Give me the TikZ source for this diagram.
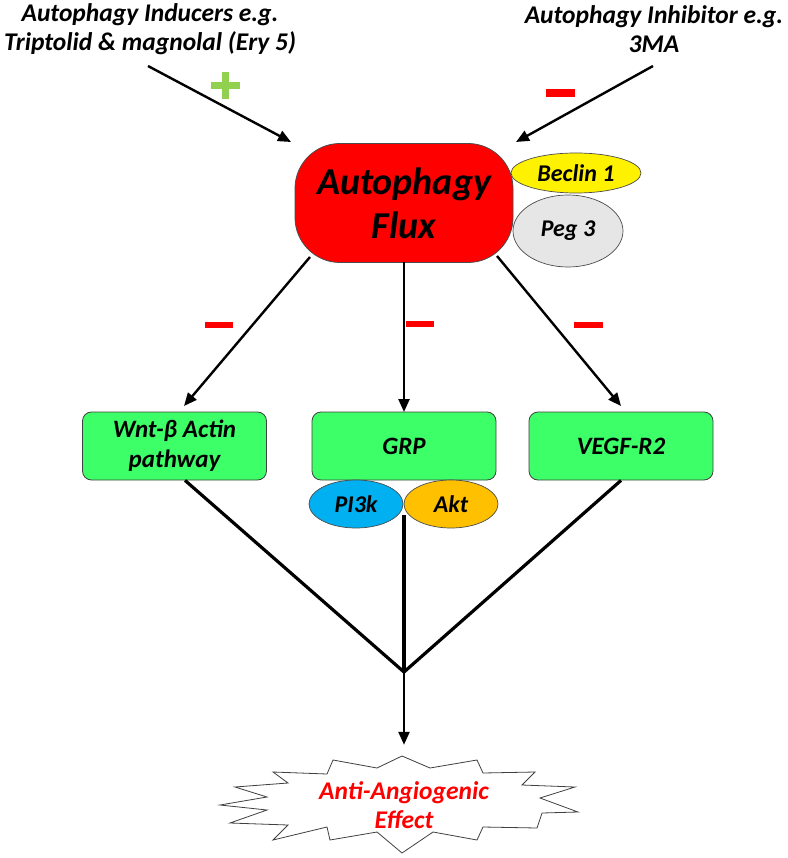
\documentclass[tikz,border=0pt]{standalone}
\usepackage{fontspec}
\setmainfont{Carlito}
\usetikzlibrary{arrows.meta,shapes.geometric}
\definecolor{boxgreen}{RGB}{61,255,104}
\definecolor{pigreen}{RGB}{146,208,80}
\definecolor{pblue}{RGB}{0,176,240}
\definecolor{aorange}{RGB}{255,192,0}
\definecolor{pgrey}{RGB}{230,230,230}
\begin{document}
\begin{tikzpicture}[x=1pt,y=-1pt,
  lbl/.style={font=\fontsize{25.5}{29}\selectfont\bfseries\itshape, align=center, inner sep=0pt},
  gbox/.style={draw=black!75, line width=0.8pt, fill=boxgreen, rounded corners=9pt,
    minimum width=184pt, minimum height=68pt, align=center, inner sep=0pt,
    font=\fontsize{25}{30}\selectfont\bfseries\itshape},
  oval/.style={ellipse, draw=black!70, line width=0.7pt, inner sep=0pt,
    font=\fontsize{24}{28}\selectfont\bfseries\itshape},
  arr/.style={line width=2.4pt, -{Triangle[length=13pt,width=11pt]}},
  conv/.style={line width=3.2pt},
  minus/.style={fill=red}
]
\useasboundingbox (0,0) rectangle (787,858);

% top texts
\node[lbl] (textL) at (150,29) {Autophagy Inducers e.g.\\Triptolid \& magnolal (Ery 5)};
\node[lbl] (textR) at (654,29) {Autophagy Inhibitor e.g.\\3MA};

% autophagy flux
\node[draw=black!70, line width=0.8pt, fill=red, rounded corners=45pt,
  minimum width=218pt, minimum height=119pt, inner sep=0pt, align=center,
  font=\fontsize{38}{44}\selectfont\bfseries\itshape] (flux) at (404,203) {Autophagy\\Flux};
\node[oval, fill=yellow, minimum width=130pt, minimum height=40pt] (beclin) at (576,173) {Beclin 1};
\node[oval, fill=pgrey, minimum width=110pt, minimum height=72pt] (peg) at (568,231) {Peg 3};

% top arrows
\coordinate (sL) at (148,66);
\coordinate (eL) at (291,142);
\coordinate (sR) at (653,66);
\coordinate (eR) at (516,142);
\draw[arr] (sL) -- (eL);
\draw[arr] (sR) -- (eR);
\fill[pigreen] (211,82) rectangle (240,89);
\fill[pigreen] (222,72) rectangle (229,99);
\fill[minus] (546,89) rectangle (575,97);

% green boxes
\node[gbox] (wnt) at (174.5,446) {Wnt-\textit{β} Actin\\pathway};
\node[gbox] (grp) at (404,446) {GRP};
\node[gbox] (vegf) at (621,446) {VEGF-R2};
\node[oval, fill=pblue, minimum width=94pt, minimum height=48pt] (pi3k) at (356,504) {PI3k};
\node[oval, fill=aorange, minimum width=94pt, minimum height=48pt] (akt) at (451,504) {Akt};

% arrows from flux
\coordinate (f1) at (310,257);
\coordinate (f2) at (404,262);
\coordinate (f3) at (497,256);
\coordinate (t1) at (184,406);
\coordinate (t2) at (404,412);
\coordinate (t3) at (621,406);
\draw[arr] (f1) -- (t1);
\draw[arr] (f2) -- (t2);
\draw[arr] (f3) -- (t3);
\fill[minus] (205,322) rectangle (233,328);
\fill[minus] (406,321) rectangle (434,327);
\fill[minus] (574,322) rectangle (603,328);

% converging lines
\coordinate (join) at (404,672);
\coordinate (gmid) at (404,515);
\draw[conv] (wnt.south -| 185,0) -- (join);
\draw[conv] (vegf.south) -- (join);
\draw[conv] (gmid) -- (join);

% effect
\draw[line width=0.8pt, fill=white, draw=black!75]
 (273,772) -- (327,774) -- (333,760) -- (377,768) -- (402,756) -- (430,768) --
 (477,760) -- (483,773) -- (535,772) -- (522,785) -- (575,787) -- (540,798) --
 (578,812) -- (542,813) -- (537,828) -- (483,827) -- (477,840) -- (433,832) --
 (402,853) -- (377,832) -- (330,840) -- (327,827) -- (273,840) -- (288,825) --
 (230,823) -- (267,810) -- (220,805) -- (267,797) -- (235,787) -- (288,783) -- cycle;
\node[inner sep=0pt, minimum height=120pt, align=center, text=red,
  font=\fontsize{25.5}{29}\selectfont\bfseries\itshape] (effect) at (404,805) {Anti-Angiogenic\\Effect};
\draw[line width=2.4pt, -{Triangle[length=13pt,width=11pt]}] (join) -- (effect.north);
\end{tikzpicture}
\end{document}
